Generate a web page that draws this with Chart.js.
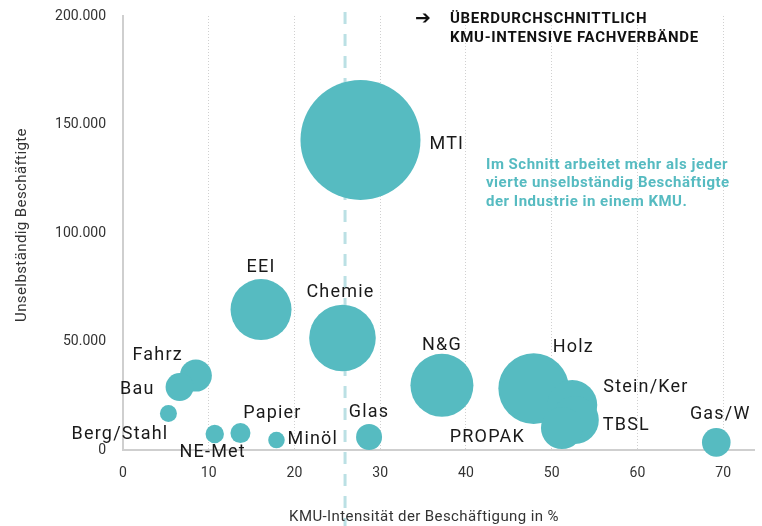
<!DOCTYPE html>
<html>
<head>
<meta charset="utf-8">
<script src="https://cdn.jsdelivr.net/npm/chart.js@4/dist/chart.umd.min.js"></script>
<style>
    html, body { margin: 0; padding: 0; background: #fff; }
    #wrap { width: 762px; height: 526px; position: relative; }
</style>
</head>
<body>
<div id="wrap"><canvas id="kmu-chart"></canvas></div>
<script>
// Fachverbände
const categories = ['MTI', 'EEI', 'Chemie', 'Fahrz', 'Bau', 'Berg/Stahl', 'NE-Met', 'Papier', 'Minöl', 'Glas', 'N&G', 'Holz', 'Stein/Ker', 'TBSL', 'PROPAK', 'Gas/W'];
// KMU-Intensität der Beschäftigung in %
const kmuIntensity = [27.7, 16.1, 25.6, 8.5, 6.6, 5.3, 10.7, 13.7, 17.9, 28.7, 37.2, 47.9, 52.4, 52.7, 51.2, 69.2];
// Unselbständig Beschäftigte
const employees = [142900, 64700, 51600, 34300, 29000, 16800, 7400, 7800, 4600, 6000, 29800, 28300, 20700, 13800, 10100, 3500];
// Bubble size
const bubbleSize = [60, 30.5, 33.3, 16, 14, 8.5, 9.2, 10, 8.3, 13, 31.5, 35.3, 25, 24, 21, 14.3];
// Durchschnitt (gestrichelte Linie)
const avgKmu = 25.9;

const xTicks = [0, 10, 20, 30, 40, 50, 60, 70];
const yTicks = [0, 50000, 100000, 150000, 200000];

// label offset from bubble centre [dx, dy, align]
const labelPlacement = {
    'MTI': [69, 5, 'left'],
    'EEI': [0, -42, 'center'],
    'Chemie': [-2, -46, 'center'],
    'Fahrz': [-13, -20, 'right'],
    'Bau': [-25, 2, 'right'],
    'Berg/Stahl': [0, 21, 'right'],
    'NE-Met': [-2, 19, 'center'],
    'Papier': [32, -20, 'center'],
    'Minöl': [11, -1, 'left'],
    'Glas': [0, -24, 'center'],
    'N&G': [0, -40, 'center'],
    'Holz': [19, -41, 'left'],
    'Stein/Ker': [31, -18, 'left'],
    'TBSL': [28, 5, 'left'],
    'PROPAK': [-37, 9, 'right'],
    'Gas/W': [4, -28, 'center']
};

const TEAL = '#56bbc1';
const FONT = 'Roboto, "DejaVu Sans", sans-serif';

const fmtDE = (v) => String(v).replace(/\B(?=(\d{3})+(?!\d))/g, '.');

const points = categories.map((c, i) => ({ x: kmuIntensity[i], y: employees[i], r: bubbleSize[i] }));

const extras = {
    id: 'extras',
    beforeDatasetsDraw(chart) {
        const ctx = chart.ctx;
        const x = chart.scales.x.getPixelForValue(avgKmu);
        ctx.save();
        ctx.strokeStyle = '#bbe0e4';
        ctx.lineWidth = 3;
        ctx.setLineDash([12, 10]);
        ctx.beginPath();
        ctx.moveTo(x, 12);
        ctx.lineTo(x, 526);
        ctx.stroke();
        ctx.restore();
    },
    afterDatasetsDraw(chart) {
        const ctx = chart.ctx;
        const meta = chart.getDatasetMeta(0);
        ctx.save();
        ctx.fillStyle = '#1a1a1a';
        ctx.font = '18px ' + FONT;
        ctx.letterSpacing = '1.2px';
        ctx.textBaseline = 'middle';
        meta.data.forEach((el, i) => {
            const p = labelPlacement[categories[i]];
            ctx.textAlign = p[2];
            ctx.fillText(categories[i], el.x + p[0], el.y + p[1]);
        });
        ctx.restore();
    },
    afterDraw(chart) {
        const ctx = chart.ctx;
        ctx.save();
        ctx.textBaseline = 'middle';
        // axis titles
        ctx.fillStyle = '#333';
        ctx.font = '15px ' + FONT;
        ctx.letterSpacing = '0.4px';
        ctx.textAlign = 'center';
        ctx.fillText('KMU-Intensität der Beschäftigung in %', 424, 517);
        ctx.save();
        ctx.translate(22, 225);
        ctx.rotate(-Math.PI / 2);
        ctx.fillText('Unselbständig Beschäftigte', 0, 0);
        ctx.restore();

        // headline
        ctx.fillStyle = '#111';
        ctx.textAlign = 'left';
        ctx.font = 'bold 19px "DejaVu Sans"';
        ctx.letterSpacing = '0px';
        ctx.fillText('➔', 415, 19);
        ctx.font = 'bold 15px ' + FONT;
        ctx.letterSpacing = '0.7px';
        ctx.fillText('ÜBERDURCHSCHNITTLICH', 450, 19);
        ctx.fillText('KMU-INTENSIVE FACHVERBÄNDE', 450, 38);

        // note
        ctx.fillStyle = TEAL;
        ctx.font = 'bold 15px ' + FONT;
        ctx.letterSpacing = '0.5px';
        ctx.fillText('Im Schnitt arbeitet mehr als jeder', 486, 165);
        ctx.fillText('vierte unselbständig Beschäftigte', 486, 183.5);
        ctx.fillText('der Industrie in einem KMU.', 486, 202);
        ctx.restore();
    }
};

const chart = new Chart(document.getElementById('kmu-chart'), {
    type: 'bubble',
    data: {
        datasets: [{
            data: points,
            backgroundColor: TEAL,
            hoverBackgroundColor: TEAL,
            borderWidth: 0,
            hoverBorderWidth: 0,
            clip: false
        }]
    },
    plugins: [extras],
    options: {
        responsive: true,
        maintainAspectRatio: false,
        animation: false,
        events: [],
        layout: { autoPadding: false, padding: { top: 16, right: 8, left: 0, bottom: 0 } },
        plugins: {
            legend: { display: false },
            tooltip: { enabled: false }
        },
        scales: {
            x: {
                type: 'linear',
                min: 0,
                max: 73.6,
                afterBuildTicks: (scale) => { scale.ticks = xTicks.map((v) => ({ value: v })); },
                afterFit: (scale) => {
                    scale.height = 76;
                    scale.paddingLeft = 0;
                    scale.paddingRight = 0;
                },
                ticks: {
                    padding: 15,
                    color: '#333',
                    font: { family: FONT, size: 14 },
                    maxRotation: 0
                },
                grid: {
                    drawTicks: false,
                    lineWidth: 1,
                    color: (c) => c.tick && c.tick.value === 0 ? 'rgba(0,0,0,0)' : '#d0d0d0'
                },
                border: { display: true, color: '#cfcfcf', width: 2, dash: [1, 2] }
            },
            y: {
                type: 'linear',
                min: 0,
                max: 200000,
                afterBuildTicks: (scale) => { scale.ticks = yTicks.map((v) => ({ value: v })); },
                afterFit: (scale) => {
                    scale.width = 123;
                    scale.paddingTop = 0;
                    scale.paddingBottom = 0;
                },
                ticks: {
                    padding: 17,
                    color: '#333',
                    font: { family: FONT, size: 14 },
                    callback: (v) => fmtDE(v)
                },
                grid: { display: false, drawTicks: false },
                border: { display: true, color: '#cfcfcf', width: 2 }
            }
        }
    }
});
</script>
</body>
</html>
